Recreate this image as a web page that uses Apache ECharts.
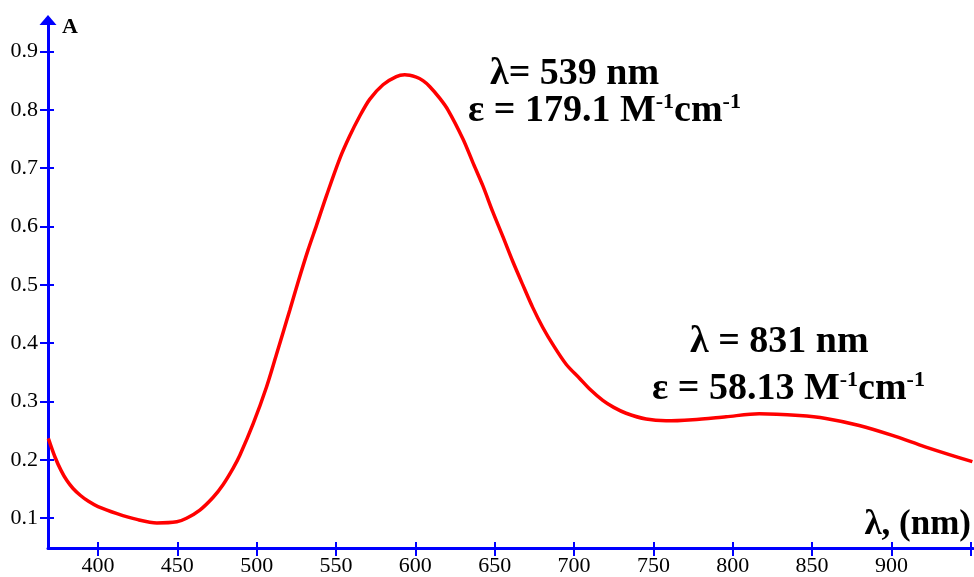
<!DOCTYPE html>
<html>
<head>
<meta charset="utf-8">
<script src="https://cdn.jsdelivr.net/npm/echarts@6/dist/echarts.min.js"></script>
<style>
  html, body { margin: 0; padding: 0; background: #fff; }
  #chart { width: 974px; height: 577px; }
</style>
</head>
<body>
<div id="chart"></div>
<script>
// Absorption spectrum: wavelength (nm) vs absorbance
const wavelength = [368.7, 372.9, 376.7, 380.3, 384.3, 389.0, 394.0, 400, 412, 424.5, 437.1, 449.7, 455.8, 464.2, 472.6, 478.9, 485.2, 489.4, 497.8, 506.2, 512.5, 516.6, 520.9, 526.1, 532.4, 537.7, 544.0, 552.3, 558.6, 564.9, 571.2, 579.6, 588.0, 593.3, 600.6, 604.8, 609.0, 615.3, 620.5, 630.0, 636.2, 642.5, 648.8, 655.1, 661.4, 667.7, 674.0, 680.3, 686.6, 695.0, 703.4, 710.0, 718.1, 725.0, 732.8, 745.4, 758.0, 774.7, 795.8, 816.7, 841.9, 858.7, 879.7, 900.6, 921.7, 951.0];
const absorbance = [0.237, 0.205, 0.182, 0.165, 0.151, 0.139, 0.129, 0.120, 0.108, 0.098, 0.092, 0.094, 0.100, 0.114, 0.136, 0.158, 0.186, 0.208, 0.262, 0.325, 0.381, 0.418, 0.457, 0.505, 0.560, 0.602, 0.653, 0.716, 0.755, 0.789, 0.818, 0.843, 0.857, 0.860, 0.856, 0.850, 0.840, 0.820, 0.800, 0.750, 0.710, 0.670, 0.625, 0.583, 0.540, 0.500, 0.461, 0.427, 0.398, 0.364, 0.340, 0.321, 0.302, 0.290, 0.280, 0.270, 0.267, 0.269, 0.274, 0.279, 0.276, 0.271, 0.259, 0.242, 0.222, 0.197];

const xLabels = [400, 450, 500, 550, 600, 650, 700, 750, 800, 850, 900];
const xTicks = [400, 450, 500, 550, 600, 650, 700, 750, 800, 850, 900, 950];
const yTicks = [0.1, 0.2, 0.3, 0.4, 0.5, 0.6, 0.7, 0.8, 0.9];

const peakBand = { lambda: 'λ= 539 nm', eps: '179.1' };
const nirBand = { lambda: 'λ = 831 nm', eps: '58.13' };

const X_MIN = 368.5, X_MAX = 951.4;
const Y_MIN = 0.049, Y_MAX = 0.954;

const SERIF = '"Liberation Serif", "Times New Roman", serif';
const BLUE = '#0000ff';

const data = wavelength.map((w, i) => [w, absorbance[i]]);

function epsText(v) {
  return '{t|ε = ' + v + ' M}{s|-1}{t|cm}{s|-1}';
}
const annRich = {
  t: { fontFamily: SERIF, fontWeight: 'bold', fontSize: 38, fill: '#000', lineHeight: 40 },
  s: { fontFamily: SERIF, fontWeight: 'bold', fontSize: 22, fill: '#000', verticalAlign: 'top', lineHeight: 40, padding: [0, 0, 14, 0] }
};

const chart = echarts.init(document.getElementById('chart'), null, { renderer: 'canvas' });

const baseX = {
  type: 'value', min: X_MIN, max: X_MAX, gridIndex: 0, position: 'bottom',
  splitLine: { show: false }
};
const baseY = {
  type: 'value', min: Y_MIN, max: Y_MAX, gridIndex: 0, position: 'left',
  splitLine: { show: false }
};

chart.setOption({
  animation: false,
  backgroundColor: '#fff',
  grid: { left: 48, right: 0, top: 20, bottom: 25, containLabel: false },
  xAxis: [
    Object.assign({}, baseX, {
      name: 'λ, (nm)',
      nameLocation: 'end',
      nameGap: -2,
      nameTextStyle: { fontFamily: SERIF, fontWeight: 'bold', fontSize: 35, color: '#000', align: 'right', verticalAlign: 'bottom', padding: [0, 0, 6, 0] },
      axisLine: { show: true, lineStyle: { color: BLUE, width: 3 } },
      axisTick: { show: true, inside: false, length: 8, lineStyle: { color: BLUE, width: 2 }, customValues: xTicks },
      axisLabel: { show: true, margin: 7, fontFamily: SERIF, fontSize: 22, color: '#000', customValues: xLabels }
    }),
    Object.assign({}, baseX, {
      axisLine: { show: false },
      axisTick: { show: true, inside: true, length: 6, lineStyle: { color: BLUE, width: 2 }, customValues: xTicks },
      axisLabel: { show: false }
    })
  ],
  yAxis: [
    Object.assign({}, baseY, {
      name: 'A',
      nameLocation: 'end',
      nameGap: -7,
      nameTextStyle: { fontFamily: SERIF, fontWeight: 'bold', fontSize: 22, color: '#000', align: 'left', verticalAlign: 'middle', padding: [0, 0, 0, 14] },
      axisLine: { show: true, symbol: ['none', 'triangle'], symbolSize: [17, 10], lineStyle: { color: BLUE, width: 3 } },
      axisTick: { show: true, inside: false, length: 8, lineStyle: { color: BLUE, width: 2 }, customValues: yTicks },
      axisLabel: { show: true, margin: 10, fontFamily: SERIF, fontSize: 22, color: '#000', customValues: yTicks }
    }),
    Object.assign({}, baseY, {
      axisLine: { show: false },
      axisTick: { show: true, inside: true, length: 6, lineStyle: { color: BLUE, width: 2 }, customValues: yTicks },
      axisLabel: { show: false }
    })
  ],
  series: [{
    type: 'line',
    data: data,
    xAxisIndex: 0,
    yAxisIndex: 0,
    smooth: 0.3,
    showSymbol: false,
    symbol: 'none',
    lineStyle: { color: '#ff0000', width: 3.5 },
    clip: false
  }],
  graphic: [
    { type: 'text', x: 490, y: 54, style: { text: '{t|' + peakBand.lambda + '}', rich: annRich } },
    { type: 'text', x: 468, y: 91, style: { text: epsText(peakBand.eps), rich: annRich } },
    { type: 'text', x: 690, y: 322, style: { text: '{t|' + nirBand.lambda + '}', rich: annRich } },
    { type: 'text', x: 652, y: 369, style: { text: epsText(nirBand.eps), rich: annRich } }
  ]
});
</script>
</body>
</html>
